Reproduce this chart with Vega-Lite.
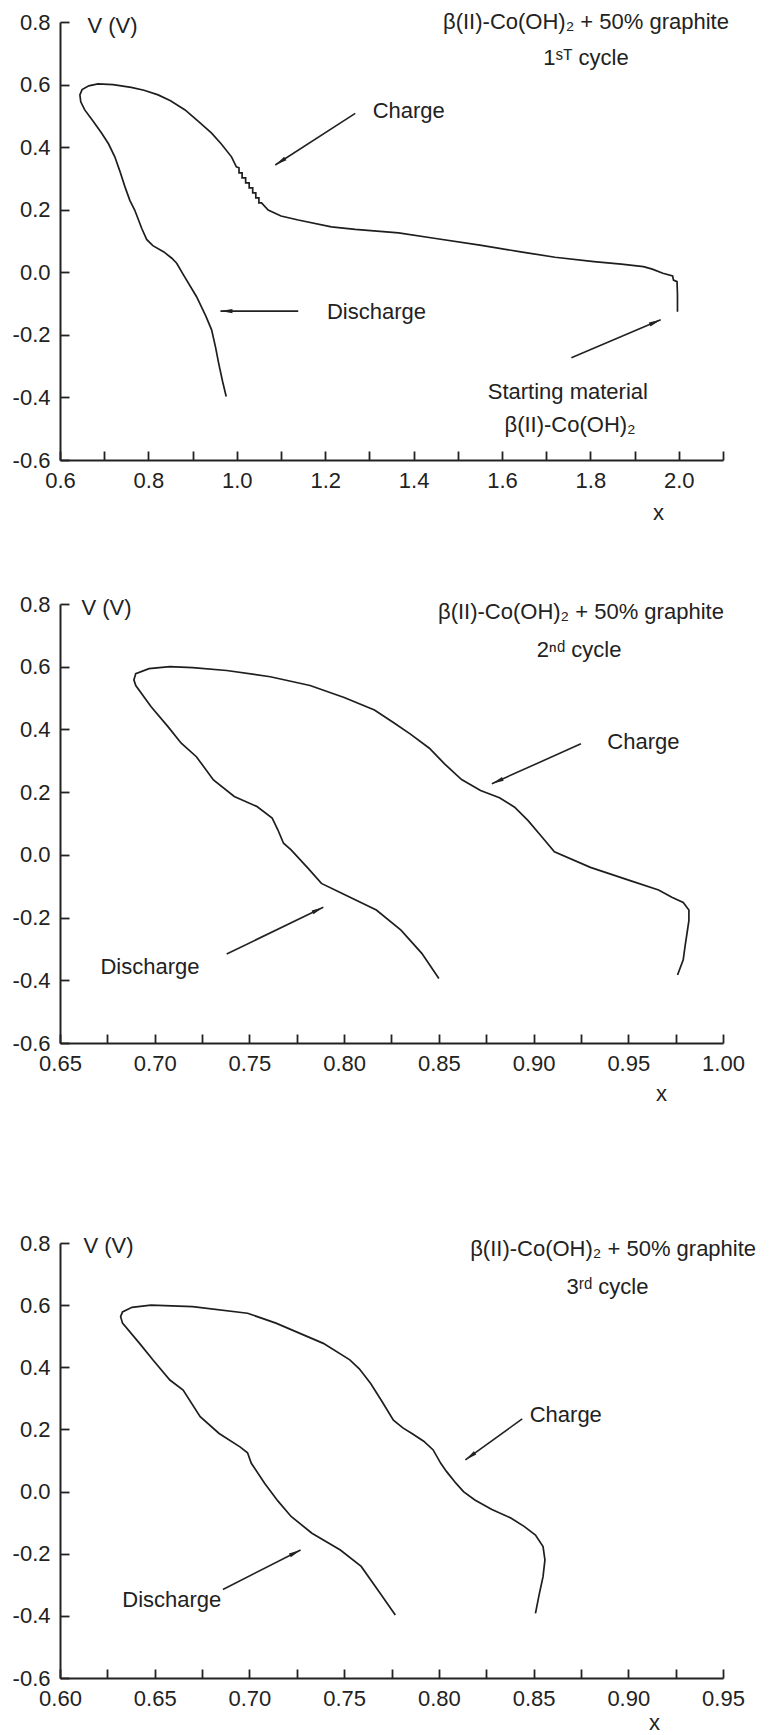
{
  "$schema": "https://vega.github.io/schema/vega-lite/v6.json",
  "background": "white",
  "padding": {"left": 12, "top": 11, "right": 0, "bottom": 0},
  "config": {
    "view": {"stroke": null},
    "font": "Liberation Sans",
    "axis": {
      "grid": false,
      "domainColor": "#222222",
      "domainWidth": 2,
      "tickColor": "#222222",
      "tickWidth": 1.8,
      "tickSize": -9,
      "labelPadding": 19,
      "labelFont": "Liberation Sans",
      "labelFontSize": 22,
      "labelColor": "#222222",
      "labelFlush": false,
      "labelOverlap": false,
      "titleFont": "Liberation Sans",
      "titleFontSize": 22,
      "titleFontWeight": "normal",
      "titleColor": "#222222"
    },
    "text": {"font": "Liberation Sans", "fontSize": 22, "color": "#222222"}
  },
  "datasets": {
    "c1": [
      {"i":1,"x":1.997,"v":-0.126},{"i":2,"x":1.997,"v":-0.070},{"i":3,"x":1.996,"v":-0.030},{"i":4,"x":1.988,"v":-0.025},
      {"i":5,"x":1.986,"v":-0.012},{"i":6,"x":1.964,"v":-0.003},{"i":7,"x":1.940,"v":0.010},{"i":8,"x":1.920,"v":0.018},
      {"i":9,"x":1.870,"v":0.026},{"i":10,"x":1.808,"v":0.034},{"i":11,"x":1.720,"v":0.048},{"i":12,"x":1.639,"v":0.066},
      {"i":13,"x":1.550,"v":0.087},{"i":14,"x":1.450,"v":0.108},{"i":15,"x":1.366,"v":0.126},{"i":16,"x":1.268,"v":0.137},
      {"i":17,"x":1.214,"v":0.145},{"i":18,"x":1.139,"v":0.167},{"i":19,"x":1.100,"v":0.180},{"i":20,"x":1.071,"v":0.199},
      {"i":21,"x":1.056,"v":0.222},{"i":22,"x":1.050,"v":0.222},{"i":23,"x":1.050,"v":0.238},{"i":24,"x":1.043,"v":0.238},
      {"i":25,"x":1.043,"v":0.254},{"i":26,"x":1.036,"v":0.254},{"i":27,"x":1.036,"v":0.270},{"i":28,"x":1.028,"v":0.270},
      {"i":29,"x":1.028,"v":0.286},{"i":30,"x":1.020,"v":0.286},{"i":31,"x":1.020,"v":0.302},{"i":32,"x":1.012,"v":0.302},
      {"i":33,"x":1.012,"v":0.318},{"i":34,"x":1.005,"v":0.318},{"i":35,"x":1.005,"v":0.334},{"i":36,"x":0.999,"v":0.337},
      {"i":37,"x":0.988,"v":0.369},{"i":38,"x":0.965,"v":0.410},{"i":39,"x":0.943,"v":0.445},{"i":40,"x":0.915,"v":0.480},
      {"i":41,"x":0.883,"v":0.519},{"i":42,"x":0.850,"v":0.548},{"i":43,"x":0.822,"v":0.567},{"i":44,"x":0.790,"v":0.582},
      {"i":45,"x":0.761,"v":0.591},{"i":46,"x":0.720,"v":0.600},{"i":47,"x":0.686,"v":0.602},{"i":48,"x":0.665,"v":0.596},
      {"i":49,"x":0.650,"v":0.584},{"i":50,"x":0.645,"v":0.567},{"i":51,"x":0.647,"v":0.545},{"i":52,"x":0.656,"v":0.519},
      {"i":53,"x":0.675,"v":0.483},{"i":54,"x":0.694,"v":0.445},{"i":55,"x":0.710,"v":0.410},{"i":56,"x":0.724,"v":0.369},
      {"i":57,"x":0.735,"v":0.325},{"i":58,"x":0.747,"v":0.273},{"i":59,"x":0.758,"v":0.230},{"i":60,"x":0.769,"v":0.199},
      {"i":61,"x":0.785,"v":0.140},{"i":62,"x":0.796,"v":0.105},{"i":63,"x":0.810,"v":0.085},{"i":64,"x":0.835,"v":0.065},
      {"i":65,"x":0.853,"v":0.045},{"i":66,"x":0.864,"v":0.029},{"i":67,"x":0.880,"v":-0.010},{"i":68,"x":0.909,"v":-0.078},
      {"i":69,"x":0.930,"v":-0.140},{"i":70,"x":0.943,"v":-0.184},{"i":71,"x":0.952,"v":-0.240},{"i":72,"x":0.959,"v":-0.291},
      {"i":73,"x":0.968,"v":-0.350},{"i":74,"x":0.976,"v":-0.397}
    ],
    "c2": [
      {"i":1,"x":0.976,"v":-0.383},{"i":2,"x":0.979,"v":-0.335},{"i":3,"x":0.980,"v":-0.290},{"i":4,"x":0.981,"v":-0.250},
      {"i":5,"x":0.982,"v":-0.210},{"i":6,"x":0.982,"v":-0.176},{"i":7,"x":0.979,"v":-0.152},{"i":8,"x":0.973,"v":-0.135},
      {"i":9,"x":0.966,"v":-0.112},{"i":10,"x":0.951,"v":-0.082},{"i":11,"x":0.930,"v":-0.040},{"i":12,"x":0.911,"v":0.010},
      {"i":13,"x":0.904,"v":0.060},{"i":14,"x":0.897,"v":0.110},{"i":15,"x":0.890,"v":0.152},{"i":16,"x":0.882,"v":0.182},
      {"i":17,"x":0.872,"v":0.205},{"i":18,"x":0.862,"v":0.240},{"i":19,"x":0.853,"v":0.290},{"i":20,"x":0.845,"v":0.340},
      {"i":21,"x":0.835,"v":0.385},{"i":22,"x":0.826,"v":0.422},{"i":23,"x":0.816,"v":0.462},{"i":24,"x":0.800,"v":0.502},
      {"i":25,"x":0.782,"v":0.540},{"i":26,"x":0.761,"v":0.568},{"i":27,"x":0.738,"v":0.588},{"i":28,"x":0.720,"v":0.597},
      {"i":29,"x":0.708,"v":0.600},{"i":30,"x":0.697,"v":0.594},{"i":31,"x":0.690,"v":0.578},{"i":32,"x":0.689,"v":0.558},
      {"i":33,"x":0.690,"v":0.540},{"i":34,"x":0.698,"v":0.473},{"i":35,"x":0.707,"v":0.409},{"i":36,"x":0.714,"v":0.356},
      {"i":37,"x":0.722,"v":0.313},{"i":38,"x":0.731,"v":0.239},{"i":39,"x":0.742,"v":0.186},{"i":40,"x":0.754,"v":0.154},
      {"i":41,"x":0.762,"v":0.117},{"i":42,"x":0.765,"v":0.080},{"i":43,"x":0.768,"v":0.037},{"i":44,"x":0.772,"v":0.016},
      {"i":45,"x":0.781,"v":-0.043},{"i":46,"x":0.788,"v":-0.091},{"i":47,"x":0.799,"v":-0.123},{"i":48,"x":0.817,"v":-0.176},
      {"i":49,"x":0.830,"v":-0.240},{"i":50,"x":0.841,"v":-0.314},{"i":51,"x":0.850,"v":-0.394}
    ],
    "c3": [
      {"i":1,"x":0.851,"v":-0.392},{"i":2,"x":0.853,"v":-0.330},{"i":3,"x":0.855,"v":-0.274},{"i":4,"x":0.856,"v":-0.220},
      {"i":5,"x":0.855,"v":-0.177},{"i":6,"x":0.851,"v":-0.140},{"i":7,"x":0.845,"v":-0.112},{"i":8,"x":0.838,"v":-0.085},
      {"i":9,"x":0.828,"v":-0.058},{"i":10,"x":0.819,"v":-0.027},{"i":11,"x":0.813,"v":0.000},{"i":12,"x":0.809,"v":0.027},
      {"i":13,"x":0.804,"v":0.065},{"i":14,"x":0.801,"v":0.091},{"i":15,"x":0.797,"v":0.134},{"i":16,"x":0.792,"v":0.162},
      {"i":17,"x":0.786,"v":0.186},{"i":18,"x":0.781,"v":0.205},{"i":19,"x":0.776,"v":0.230},{"i":20,"x":0.770,"v":0.290},
      {"i":21,"x":0.764,"v":0.348},{"i":22,"x":0.758,"v":0.395},{"i":23,"x":0.753,"v":0.424},{"i":24,"x":0.739,"v":0.477},
      {"i":25,"x":0.714,"v":0.542},{"i":26,"x":0.699,"v":0.574},{"i":27,"x":0.670,"v":0.595},{"i":28,"x":0.648,"v":0.600},
      {"i":29,"x":0.638,"v":0.593},{"i":30,"x":0.633,"v":0.578},{"i":31,"x":0.632,"v":0.563},{"i":32,"x":0.633,"v":0.542},
      {"i":33,"x":0.642,"v":0.477},{"i":34,"x":0.649,"v":0.424},{"i":35,"x":0.658,"v":0.359},{"i":36,"x":0.665,"v":0.327},
      {"i":37,"x":0.674,"v":0.241},{"i":38,"x":0.684,"v":0.187},{"i":39,"x":0.695,"v":0.144},{"i":40,"x":0.699,"v":0.125},
      {"i":41,"x":0.701,"v":0.091},{"i":42,"x":0.708,"v":0.027},{"i":43,"x":0.715,"v":-0.030},{"i":44,"x":0.722,"v":-0.080},
      {"i":45,"x":0.733,"v":-0.134},{"i":46,"x":0.748,"v":-0.188},{"i":47,"x":0.759,"v":-0.241},{"i":48,"x":0.769,"v":-0.327},
      {"i":49,"x":0.777,"v":-0.397}
    ],
    "a1": [
      {"x":1.268,"v":0.508,"x2":1.087,"v2":0.343,"dir":237},
      {"x":1.139,"v":-0.124,"x2":0.963,"v2":-0.124,"dir":270},
      {"x":1.757,"v":-0.273,"x2":1.959,"v2":-0.152,"dir":67}
    ],
    "a2": [
      {"x":0.925,"v":0.354,"x2":0.878,"v2":0.227,"dir":246},
      {"x":0.738,"v":-0.316,"x2":0.789,"v2":-0.167,"dir":64}
    ],
    "a3": [
      {"x":0.844,"v":0.234,"x2":0.814,"v2":0.102,"dir":234},
      {"x":0.686,"v":-0.315,"x2":0.727,"v2":-0.188,"dir":63}
    ],
    "t1": [
      {"x":1.790,"v":0.800,"label":"β(II)-Co(OH)₂ + 50% graphite"},
      {"x":1.790,"v":0.685,"label":"1ˢᵀ cycle"},
      {"x":1.389,"v":0.516,"label":"Charge"},
      {"x":1.316,"v":-0.126,"label":"Discharge"},
      {"x":1.749,"v":-0.382,"label":"Starting material"},
      {"x":1.754,"v":-0.488,"label":"β(II)-Co(OH)₂"}
    ],
    "t2": [
      {"x":0.925,"v":0.775,"label":"β(II)-Co(OH)₂ + 50% graphite"},
      {"x":0.924,"v":0.653,"label":"2ⁿᵈ cycle"},
      {"x":0.958,"v":0.361,"label":"Charge"},
      {"x":0.6975,"v":-0.357,"label":"Discharge"}
    ],
    "t3": [
      {"x":0.892,"v":0.780,"label":"β(II)-Co(OH)₂ + 50% graphite"},
      {"x":0.889,"v":0.660,"label":"3ʳᵈ cycle"},
      {"x":0.867,"v":0.248,"label":"Charge"},
      {"x":0.659,"v":-0.349,"label":"Discharge"}
    ]
  },
  "vconcat": [
    {
      "vconcat": [
        {
          "width": 663,
          "height": 438,
          "layer": [
            {
              "data": {"name": "c1"},
              "mark": {"type": "line", "stroke": "#1e1e1e", "strokeWidth": 1.7},
              "encoding": {
                "x": {"field": "x", "type": "quantitative", "scale": {"domain": [0.6, 2.1], "nice": false, "zero": false},
                  "axis": {"values": [0.6,0.7,0.8,0.9,1.0,1.1,1.2,1.3,1.4,1.5,1.6,1.7,1.8,1.9,2.0,2.1],
                    "title": "x", "titleX": 598, "titleY": 52, "titleAlign": "center", "titleBaseline": "middle",
                    "labelExpr": "abs(round(datum.value*10))%2==0 ? format(datum.value,'.1f') : ''",
                    "encode": {"ticks": {"y2": {"value": {"expr": "abs(round(datum.value*10))%2==0 ? -9 : -5"}}}}}},
                "y": {"field": "v", "type": "quantitative", "scale": {"domain": [-0.6, 0.8], "nice": false, "zero": false},
                  "axis": {"values": [-0.6,-0.5,-0.4,-0.3,-0.2,-0.1,0,0.1,0.2,0.3,0.4,0.5,0.6,0.7,0.8],
                    "title": "V (V)", "titleAngle": 0, "titleAlign": "left", "titleBaseline": "middle", "titleX": 27, "titleY": 3,
                    "labelExpr": "abs(round(datum.value*10))%2==0 ? (datum.value < -0.001 ? '-' : '') + format(abs(datum.value),'.1f') : ''",
                    "encode": {"ticks": {"x2": {"value": {"expr": "abs(round(datum.value*10))%2==0 ? 9 : 5"}}}}}},
                "order": {"field": "i", "type": "quantitative"}
              }
            },
            {
              "data": {"name": "a1"},
              "mark": {"type": "rule", "color": "#222222", "strokeWidth": 1.6},
              "encoding": {
                "x": {"field": "x", "type": "quantitative", "scale": {"domain": [0.6, 2.1], "nice": false, "zero": false}},
                "y": {"field": "v", "type": "quantitative", "scale": {"domain": [-0.6, 0.8], "nice": false, "zero": false}},
                "x2": {"field": "x2"},
                "y2": {"field": "v2"}
              }
            },
            {
              "data": {"name": "a1"},
              "mark": {"type": "point", "shape": "M0,0L0.35,2L-0.35,2Z", "filled": true, "size": 144, "color": "#222222", "opacity": 1},
              "encoding": {
                "x": {"field": "x2", "type": "quantitative", "scale": {"domain": [0.6, 2.1], "nice": false, "zero": false}},
                "y": {"field": "v2", "type": "quantitative", "scale": {"domain": [-0.6, 0.8], "nice": false, "zero": false}},
                "angle": {"field": "dir", "type": "quantitative", "scale": null}
              }
            },
            {
              "data": {"name": "t1"},
              "mark": {"type": "text", "align": "center", "baseline": "middle"},
              "encoding": {
                "x": {"field": "x", "type": "quantitative", "scale": {"domain": [0.6, 2.1], "nice": false, "zero": false}},
                "y": {"field": "v", "type": "quantitative", "scale": {"domain": [-0.6, 0.8], "nice": false, "zero": false}},
                "text": {"field": "label"}
              }
            }
          ]
        },
        {
          "width": 663,
          "height": 439,
          "layer": [
            {
              "data": {"name": "c2"},
              "mark": {"type": "line", "stroke": "#1e1e1e", "strokeWidth": 1.7},
              "encoding": {
                "x": {"field": "x", "type": "quantitative", "scale": {"domain": [0.65, 1.0], "nice": false, "zero": false},
                  "axis": {"values": [0.65,0.675,0.7,0.725,0.75,0.775,0.8,0.825,0.85,0.875,0.9,0.925,0.95,0.975,1.0],
                    "title": "x", "titleX": 601, "titleY": 50, "titleAlign": "center", "titleBaseline": "middle",
                    "labelExpr": "abs(round(datum.value*40))%2==0 ? format(datum.value,'.2f') : ''",
                    "encode": {"ticks": {"y2": {"value": {"expr": "abs(round(datum.value*40))%2==0 ? -9 : -5"}}}}}},
                "y": {"field": "v", "type": "quantitative", "scale": {"domain": [-0.6, 0.8], "nice": false, "zero": false},
                  "axis": {"values": [-0.6,-0.5,-0.4,-0.3,-0.2,-0.1,0,0.1,0.2,0.3,0.4,0.5,0.6,0.7,0.8],
                    "title": "V (V)", "titleAngle": 0, "titleAlign": "left", "titleBaseline": "middle", "titleX": 21, "titleY": 3,
                    "labelExpr": "abs(round(datum.value*10))%2==0 ? (datum.value < -0.001 ? '-' : '') + format(abs(datum.value),'.1f') : ''",
                    "encode": {"ticks": {"x2": {"value": {"expr": "abs(round(datum.value*10))%2==0 ? 9 : 5"}}}}}},
                "order": {"field": "i", "type": "quantitative"}
              }
            },
            {
              "data": {"name": "a2"},
              "mark": {"type": "rule", "color": "#222222", "strokeWidth": 1.6},
              "encoding": {
                "x": {"field": "x", "type": "quantitative", "scale": {"domain": [0.65, 1.0], "nice": false, "zero": false}},
                "y": {"field": "v", "type": "quantitative", "scale": {"domain": [-0.6, 0.8], "nice": false, "zero": false}},
                "x2": {"field": "x2"},
                "y2": {"field": "v2"}
              }
            },
            {
              "data": {"name": "a2"},
              "mark": {"type": "point", "shape": "M0,0L0.35,2L-0.35,2Z", "filled": true, "size": 144, "color": "#222222", "opacity": 1},
              "encoding": {
                "x": {"field": "x2", "type": "quantitative", "scale": {"domain": [0.65, 1.0], "nice": false, "zero": false}},
                "y": {"field": "v2", "type": "quantitative", "scale": {"domain": [-0.6, 0.8], "nice": false, "zero": false}},
                "angle": {"field": "dir", "type": "quantitative", "scale": null}
              }
            },
            {
              "data": {"name": "t2"},
              "mark": {"type": "text", "align": "center", "baseline": "middle"},
              "encoding": {
                "x": {"field": "x", "type": "quantitative", "scale": {"domain": [0.65, 1.0], "nice": false, "zero": false}},
                "y": {"field": "v", "type": "quantitative", "scale": {"domain": [-0.6, 0.8], "nice": false, "zero": false}},
                "text": {"field": "label"}
              }
            }
          ]
        }
      ],
      "spacing": 70
    },
    {
      "width": 663,
      "height": 435,
      "layer": [
        {
          "data": {"name": "c3"},
          "mark": {"type": "line", "stroke": "#1e1e1e", "strokeWidth": 1.7},
          "encoding": {
            "x": {"field": "x", "type": "quantitative", "scale": {"domain": [0.6, 0.95], "nice": false, "zero": false},
              "axis": {"values": [0.6,0.625,0.65,0.675,0.7,0.725,0.75,0.775,0.8,0.825,0.85,0.875,0.9,0.925,0.95],
                "title": "x", "titleX": 594, "titleY": 44, "titleAlign": "center", "titleBaseline": "middle",
                "labelExpr": "abs(round(datum.value*40))%2==0 ? format(datum.value,'.2f') : ''",
                "encode": {"ticks": {"y2": {"value": {"expr": "abs(round(datum.value*40))%2==0 ? -9 : -5"}}}}}},
            "y": {"field": "v", "type": "quantitative", "scale": {"domain": [-0.6, 0.8], "nice": false, "zero": false},
              "axis": {"values": [-0.6,-0.5,-0.4,-0.3,-0.2,-0.1,0,0.1,0.2,0.3,0.4,0.5,0.6,0.7,0.8],
                "title": "V (V)", "titleAngle": 0, "titleAlign": "left", "titleBaseline": "middle", "titleX": 23, "titleY": 2,
                "labelExpr": "abs(round(datum.value*10))%2==0 ? (datum.value < -0.001 ? '-' : '') + format(abs(datum.value),'.1f') : ''",
                "encode": {"ticks": {"x2": {"value": {"expr": "abs(round(datum.value*10))%2==0 ? 9 : 5"}}}}}},
            "order": {"field": "i", "type": "quantitative"}
          }
        },
        {
          "data": {"name": "a3"},
          "mark": {"type": "rule", "color": "#222222", "strokeWidth": 1.6},
          "encoding": {
            "x": {"field": "x", "type": "quantitative", "scale": {"domain": [0.6, 0.95], "nice": false, "zero": false}},
            "y": {"field": "v", "type": "quantitative", "scale": {"domain": [-0.6, 0.8], "nice": false, "zero": false}},
            "x2": {"field": "x2"},
            "y2": {"field": "v2"}
          }
        },
        {
          "data": {"name": "a3"},
          "mark": {"type": "point", "shape": "M0,0L0.35,2L-0.35,2Z", "filled": true, "size": 144, "color": "#222222", "opacity": 1},
          "encoding": {
            "x": {"field": "x2", "type": "quantitative", "scale": {"domain": [0.6, 0.95], "nice": false, "zero": false}},
            "y": {"field": "v2", "type": "quantitative", "scale": {"domain": [-0.6, 0.8], "nice": false, "zero": false}},
            "angle": {"field": "dir", "type": "quantitative", "scale": null}
          }
        },
        {
          "data": {"name": "t3"},
          "mark": {"type": "text", "align": "center", "baseline": "middle"},
          "encoding": {
            "x": {"field": "x", "type": "quantitative", "scale": {"domain": [0.6, 0.95], "nice": false, "zero": false}},
            "y": {"field": "v", "type": "quantitative", "scale": {"domain": [-0.6, 0.8], "nice": false, "zero": false}},
            "text": {"field": "label"}
          }
        }
      ]
    }
  ],
  "spacing": 128
}
